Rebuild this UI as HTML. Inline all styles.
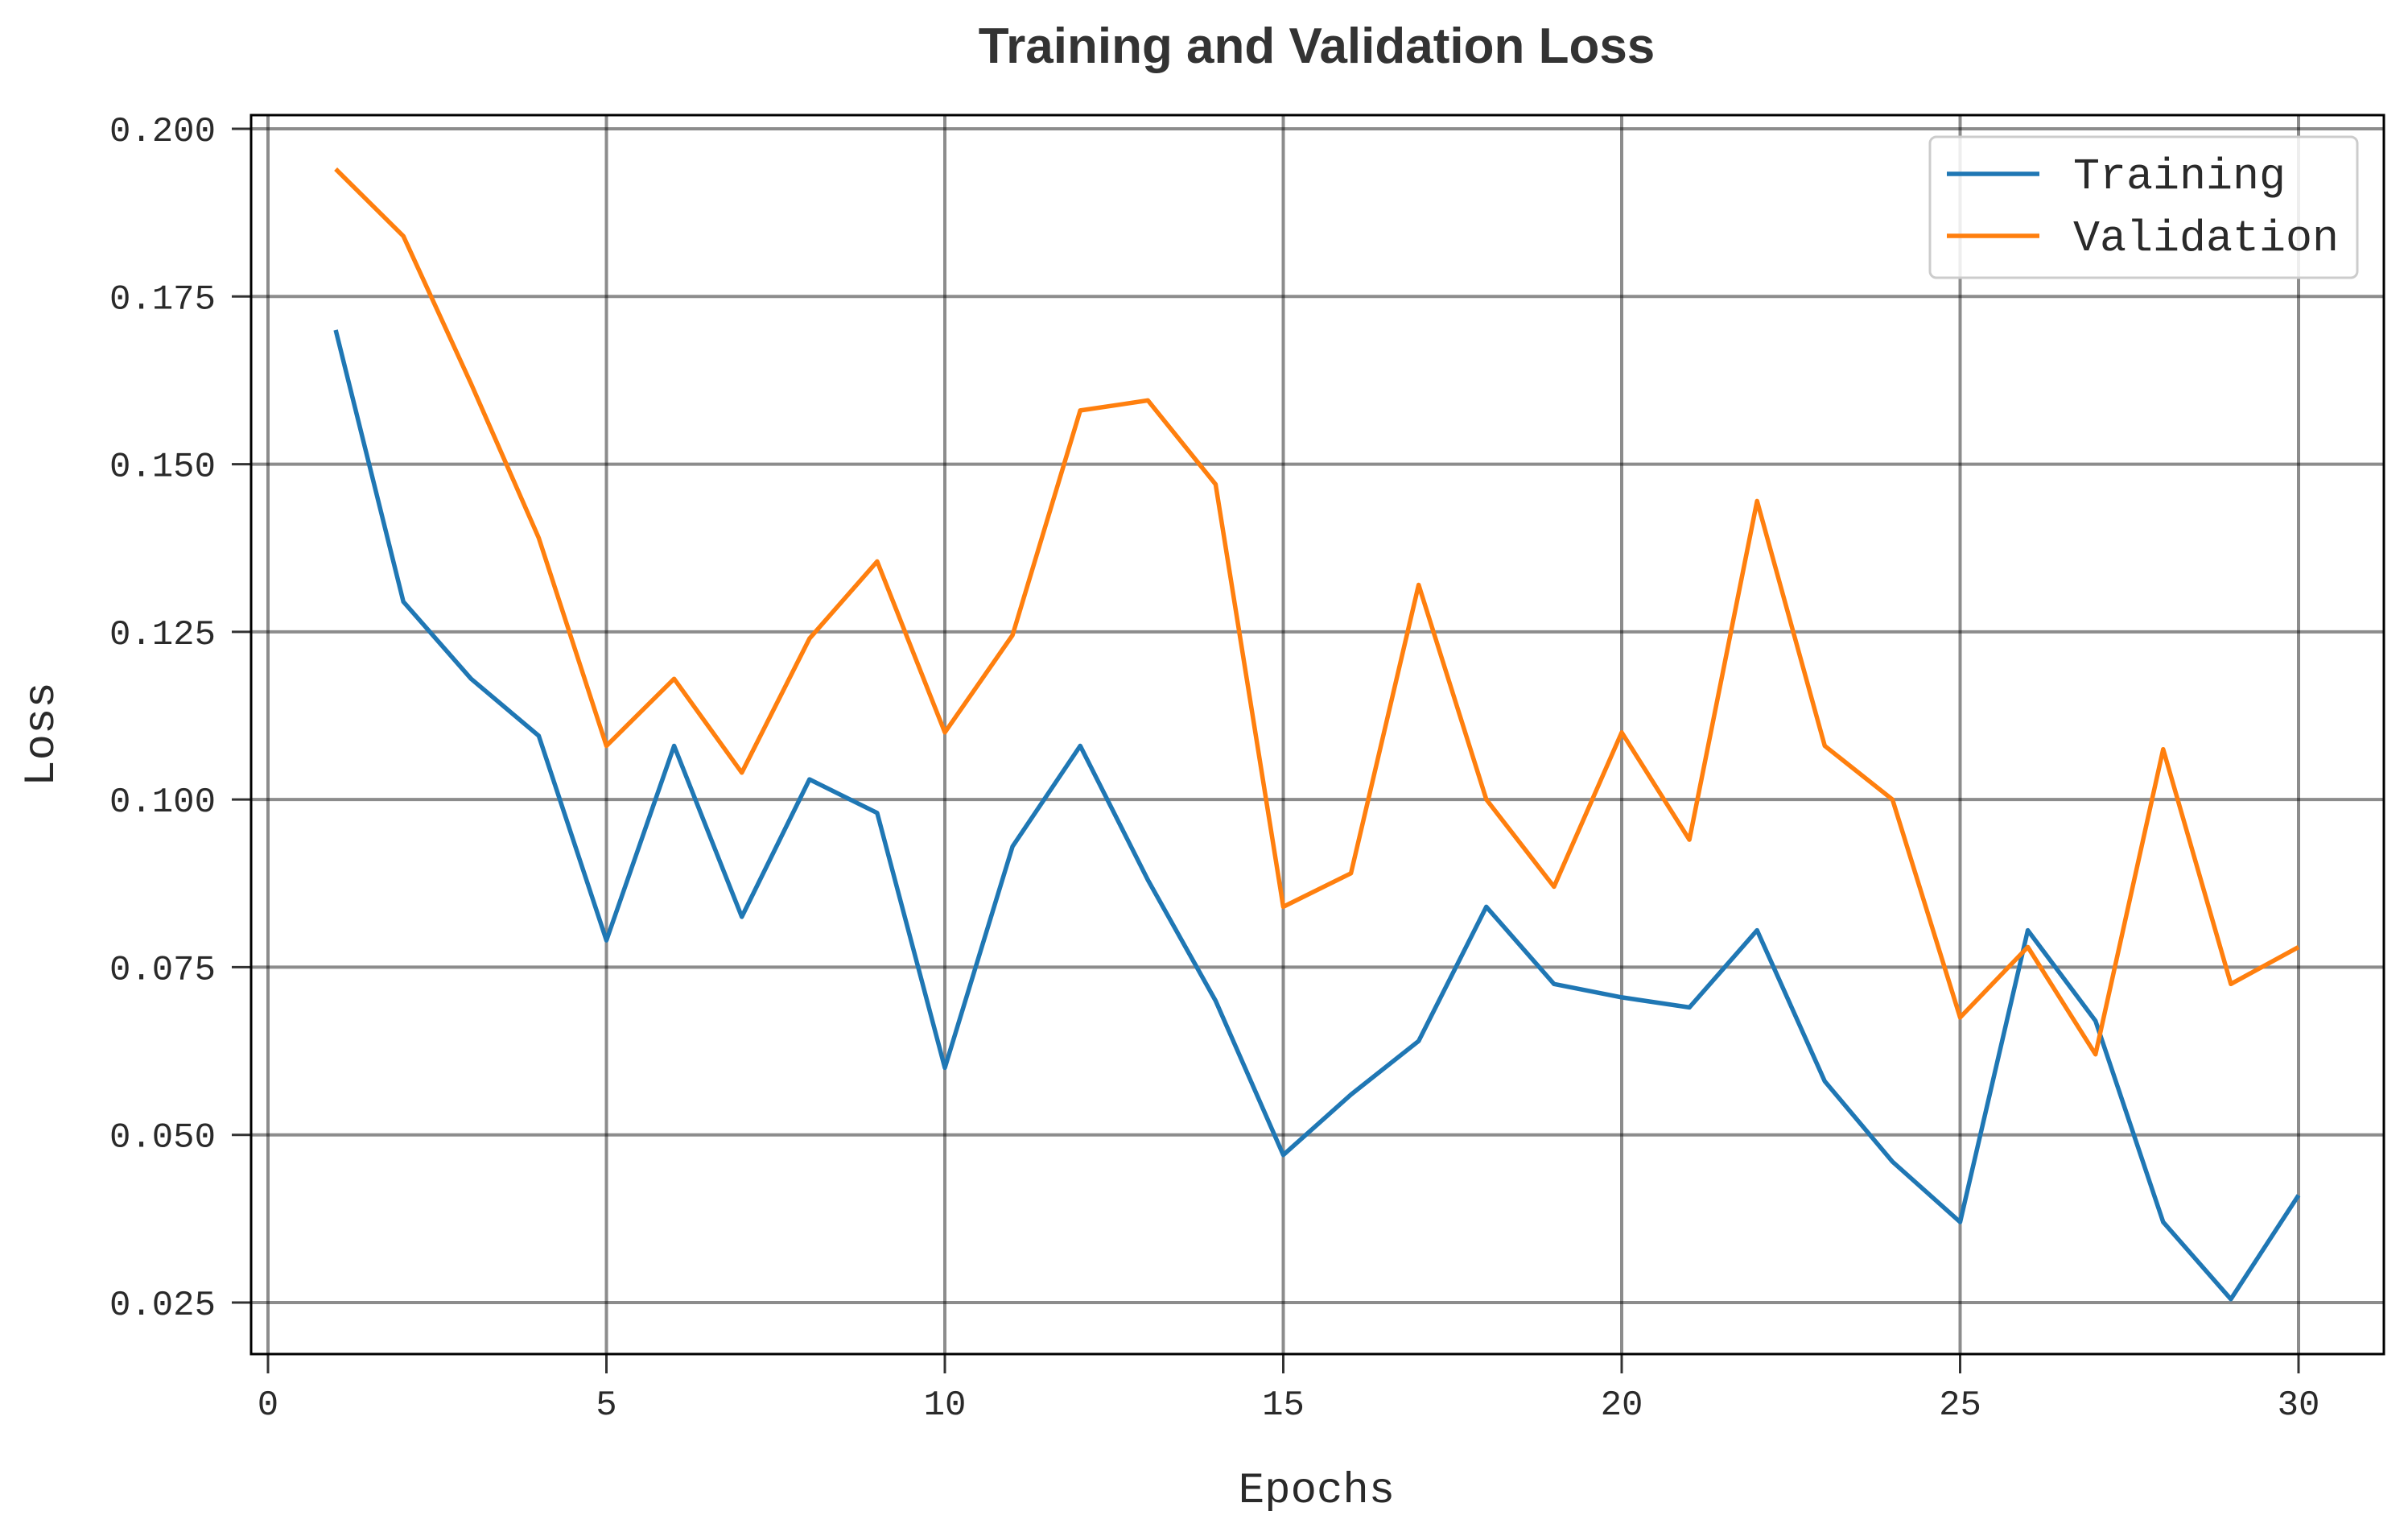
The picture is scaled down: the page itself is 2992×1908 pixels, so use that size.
<!DOCTYPE html>
<html><head><meta charset="utf-8"><style>
html,body{margin:0;padding:0;background:#fff;}
svg{display:block;}
text{font-family:"Liberation Mono",monospace;fill:#2a2a2a;}
</style></head><body>
<svg id="chart" width="2992" height="1908" xmlns="http://www.w3.org/2000/svg">
<text x="1636" y="78" text-anchor="middle" style="font-family:'Liberation Sans',sans-serif;font-weight:bold;font-size:62px;fill:#333">Training and Validation Loss</text>
<g id="grid"></g>
<g id="ticks"></g>
<g id="series"></g>
<rect x="312" y="143" width="2650" height="1539" fill="none" stroke="#000" stroke-width="3"/>
<text x="1636" y="1866" text-anchor="middle" font-size="54">Epochs</text>
<text x="0" y="0" text-anchor="middle" font-size="54" transform="translate(66,912) rotate(-90)">Loss</text>
<g>
<rect x="2398" y="170" width="531" height="175" rx="8" fill="#fff" fill-opacity="0.85" stroke="#ccc" stroke-width="3"/>
<line x1="2419" y1="216" x2="2534" y2="216" stroke="#1f77b4" stroke-width="5.5"/>
<text x="2576" y="234" font-size="55">Training</text>
<line x1="2419" y1="293" x2="2534" y2="293" stroke="#ff7f0e" stroke-width="5.5"/>
<text x="2576" y="311" font-size="55">Validation</text>
</g>
</svg>
<script>
const epochs = [1,2,3,4,5,6,7,8,9,10,11,12,13,14,15,16,17,18,19,20,21,22,23,24,25,26,27,28,29,30];
const trainingLoss = [0.170,0.1295,0.118,0.1095,0.079,0.108,0.0825,0.103,0.098,0.060,0.093,0.108,0.088,0.070,0.047,0.056,0.064,0.084,0.0725,0.0705,0.069,0.0805,0.058,0.046,0.037,0.0805,0.067,0.037,0.0255,0.041];
const validationLoss = [0.194,0.184,0.162,0.139,0.108,0.118,0.104,0.124,0.1355,0.110,0.1245,0.158,0.1595,0.147,0.084,0.089,0.132,0.100,0.087,0.110,0.094,0.1445,0.108,0.100,0.0675,0.078,0.062,0.1075,0.0725,0.078];
const xTicks = [0,5,10,15,20,25,30];
const yTicks = [0.025,0.050,0.075,0.100,0.125,0.150,0.175,0.200];
const yTickLabels = ["0.025","0.050","0.075","0.100","0.125","0.150","0.175","0.200"];

const NS = "http://www.w3.org/2000/svg";
const X0 = 333, XPER = (2856-333)/30;
const Y200 = 160, YPER = (1618-160)/0.175;
function xs(v){return X0 + v*XPER;}
function ys(v){return Y200 + (0.200 - v)*YPER;}
function mk(tag, attrs, parent){const e=document.createElementNS(NS,tag);for(const k in attrs)e.setAttribute(k,attrs[k]);parent.appendChild(e);return e;}
const grid=document.getElementById('grid'), ticks=document.getElementById('ticks'), series=document.getElementById('series');
xTicks.forEach(t=>{
  const x=xs(t);
  const g=mk('line',{x1:x,y1:143,x2:x,y2:1682,stroke:'#000','stroke-opacity':0.45,'stroke-width':4},grid);
  
  
  const tk=mk('line',{x1:x,y1:1682,x2:x,y2:1706,stroke:'#333','stroke-width':3},ticks);
  
  
  const lb=mk('text',{x:x,y:1757,'text-anchor':'middle','font-size':44},ticks);
  lb.textContent=String(t);
  
  
});
yTicks.forEach((t,i)=>{
  const y=ys(t);
  const g=mk('line',{x1:312,y1:y,x2:2962,y2:y,stroke:'#000','stroke-opacity':0.45,'stroke-width':4},grid);
  
  
  const tk=mk('line',{x1:288,y1:y,x2:312,y2:y,stroke:'#333','stroke-width':3},ticks);
  
  
  const lb=mk('text',{x:268,y:y+15,'text-anchor':'end','font-size':44},ticks);
  lb.textContent=yTickLabels[i];
  
  
});
function pts(vals){return vals.map((v,i)=>xs(epochs[i]).toFixed(1)+','+ys(v).toFixed(1)).join(' ');}
const tl=mk('polyline',{points:pts(trainingLoss),fill:'none',stroke:'#1f77b4','stroke-width':5.5,'stroke-linejoin':'round'},series);


const vl=mk('polyline',{points:pts(validationLoss),fill:'none',stroke:'#ff7f0e','stroke-width':5.5,'stroke-linejoin':'round'},series);


</script>
</body></html>
